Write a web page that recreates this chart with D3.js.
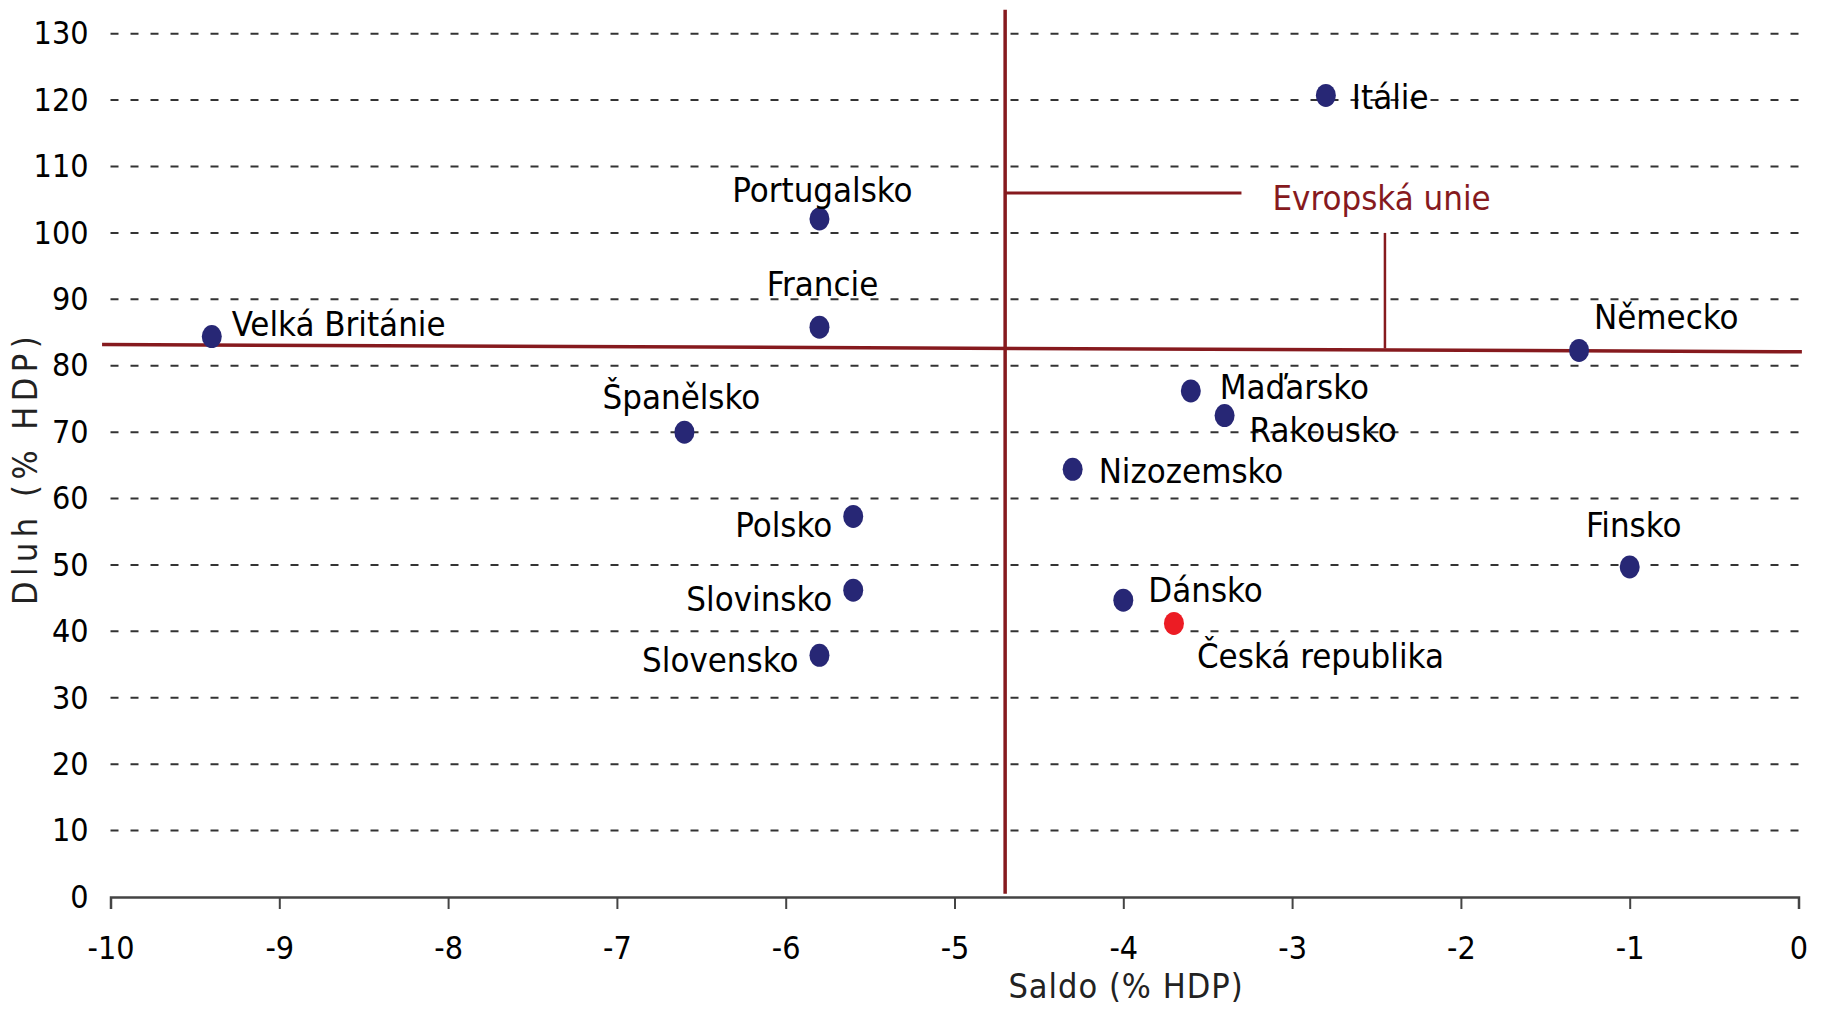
<!DOCTYPE html>
<html>
<head>
<meta charset="utf-8">
<script src="https://cdn.jsdelivr.net/npm/d3@7"></script>
<style>
  html, body { margin: 0; padding: 0; background: #fff; }
  svg text { font-family: "DejaVu Sans Condensed", "DejaVu Sans", sans-serif; font-stretch: condensed; }
</style>
</head>
<body>
<svg id="chart" width="1824" height="1009"></svg>
<script>
// ---- Data ----
const countries = ["Velká Británie","Portugalsko","Francie","Španělsko","Polsko","Slovinsko","Slovensko",
  "Itálie","Maďarsko","Rakousko","Nizozemsko","Dánsko","Česká republika","Německo","Finsko"];
const saldo = [-9.4,-5.8,-5.8,-6.6,-5.6,-5.6,-5.8,-2.8,-3.6,-3.4,-4.3,-4.0,-3.7,-1.3,-1.0];
const dluh  = [84.4,102.1,85.8,70.0,57.3,46.2,36.4,120.7,76.2,72.5,64.4,44.7,41.2,82.3,49.7];
const highlighted = ["Česká republika"];

const xTicks = [-10,-9,-8,-7,-6,-5,-4,-3,-2,-1,0];
const yTicks = [0,10,20,30,40,50,60,70,80,90,100,110,120,130];

const euLabel = "Evropská unie";
const euVertical   = [[-4.7, 133.6], [-4.7, 0.5]];
const euHorizontal = [[-10.05, 83.2], [0.02, 82.1]];
const euCallout1   = [[-4.7, 106], [-3.3, 106]];
const euCallout2   = [[-2.45, 100], [-2.45, 82.6]];
const euLabelAt    = [-2.47, 105.3];

const xTitle = "Saldo (% HDP)";
const yTitle = "Dluh (% HDP)";

// ---- Layout (label placement, px) ----
const labelPlacement = {
  "Velká Británie":  {anchor:"start",  dx: 20, dy:-13},
  "Portugalsko":     {anchor:"middle", dx:  3, dy:-29},
  "Francie":         {anchor:"middle", dx:  3, dy:-43},
  "Španělsko":       {anchor:"middle", dx: -3, dy:-35},
  "Polsko":          {anchor:"end",    dx:-21, dy:  8},
  "Slovinsko":       {anchor:"end",    dx:-21, dy:  9},
  "Slovensko":       {anchor:"end",    dx:-21, dy:  5},
  "Itálie":          {anchor:"start",  dx: 26, dy:  1},
  "Maďarsko":        {anchor:"start",  dx: 29, dy: -4},
  "Rakousko":        {anchor:"start",  dx: 25, dy: 14},
  "Nizozemsko":      {anchor:"start",  dx: 26, dy:  2},
  "Dánsko":          {anchor:"start",  dx: 25, dy:-10},
  "Česká republika": {anchor:"start",  dx: 23, dy: 33},
  "Německo":         {anchor:"start",  dx: 15, dy:-34},
  "Finsko":          {anchor:"middle", dx:  4, dy:-42}
};

const TICK_FONT = 32;
const LABEL_FONT = 34.5;
const EU_COLOR = "#861a1e";
const DOT_COLOR = "#272775";
const HL_COLOR = "#ec1c24";
const FAMILY = '"DejaVu Sans Condensed", "DejaVu Sans", sans-serif';

const svg = d3.select("#chart");
const x = d3.scaleLinear().domain([-10, 0]).range([110.5, 1798.5]);
const y = d3.scaleLinear().domain([0, 130]).range([897, 33.7]);

// Gridlines
svg.append("g").selectAll("line")
  .data(yTicks.filter(d => d > 0))
  .join("line")
  .attr("x1", x(-10)).attr("x2", x(0))
  .attr("y1", d => y(d)).attr("y2", d => y(d))
  .attr("stroke", "#333").attr("stroke-width", 2)
  .attr("stroke-dasharray", "8,12");

// X axis
const xAxis = svg.append("g")
  .attr("transform", `translate(0,${y(0)})`)
  .call(d3.axisBottom(x).tickValues(xTicks).tickSize(12).tickPadding(27).tickFormat(d => String(d)));
xAxis.select(".domain").attr("stroke", "#444").attr("stroke-width", 2.5);
xAxis.selectAll(".tick line").attr("stroke", "#444").attr("stroke-width", 2);
xAxis.selectAll("text").attr("font-size", TICK_FONT).attr("fill", "#000").style("font-family", FAMILY);

// Y axis
const yAxis = svg.append("g")
  .attr("transform", `translate(${x(-10)},0)`)
  .call(d3.axisLeft(y).tickValues(yTicks).tickSize(0).tickPadding(22).tickFormat(d => String(d)));
yAxis.select(".domain").remove();
yAxis.selectAll("text").attr("font-size", TICK_FONT).attr("fill", "#000").style("font-family", FAMILY);

// EU lines
const line = d3.line().x(d => x(d[0])).y(d => y(d[1]));
svg.append("path").attr("d", line(euHorizontal)).attr("stroke", EU_COLOR).attr("stroke-width", 3.5).attr("fill", "none");
svg.append("path").attr("d", line(euVertical)).attr("stroke", EU_COLOR).attr("stroke-width", 3.5).attr("fill", "none");
svg.append("path").attr("d", line(euCallout1)).attr("stroke", EU_COLOR).attr("stroke-width", 3).attr("fill", "none");
svg.append("path").attr("d", line(euCallout2)).attr("stroke", EU_COLOR).attr("stroke-width", 2.5).attr("fill", "none");
svg.append("text")
  .attr("x", x(euLabelAt[0])).attr("y", y(euLabelAt[1]))
  .attr("dy", "0.35em").attr("text-anchor", "middle")
  .attr("font-size", LABEL_FONT).attr("fill", EU_COLOR).text(euLabel);

// Points
const pts = countries.map((c, i) => ({name: c, x: saldo[i], y: dluh[i]}));
svg.append("g").selectAll("ellipse")
  .data(pts).join("ellipse")
  .attr("cx", d => x(d.x)).attr("cy", d => y(d.y))
  .attr("rx", 10).attr("ry", 11.5)
  .attr("fill", d => highlighted.includes(d.name) ? HL_COLOR : DOT_COLOR);

// Labels
svg.append("g").selectAll("text")
  .data(pts).join("text")
  .attr("x", d => x(d.x) + labelPlacement[d.name].dx)
  .attr("y", d => y(d.y) + labelPlacement[d.name].dy)
  .attr("dy", "0.35em")
  .attr("text-anchor", d => labelPlacement[d.name].anchor)
  .attr("font-size", LABEL_FONT).attr("fill", "#000")
  .text(d => d.name);

// Axis titles
svg.append("text")
  .attr("x", 1126).attr("y", 998)
  .attr("text-anchor", "middle")
  .attr("font-size", 34).attr("letter-spacing", 1)
  .attr("fill", "#222").text(xTitle);
svg.append("text")
  .attr("transform", "translate(37,468) rotate(-90)")
  .attr("text-anchor", "middle")
  .attr("font-size", 34).attr("letter-spacing", 5.5)
  .attr("fill", "#222").text(yTitle);
</script>
</body>
</html>
